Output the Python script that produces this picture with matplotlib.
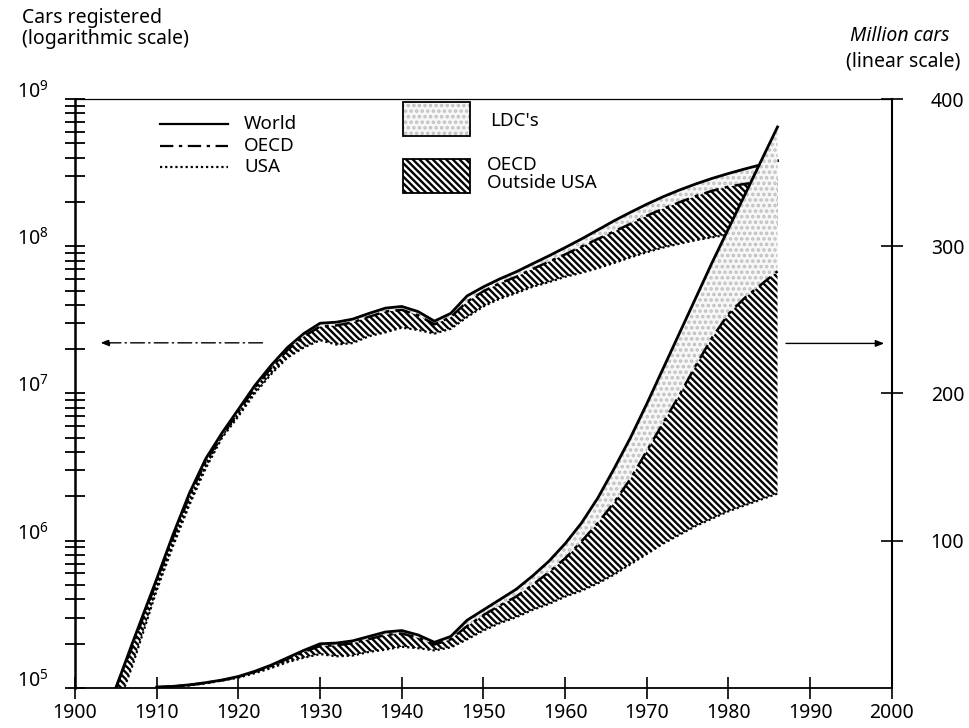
import numpy as np
import matplotlib.pyplot as plt
from matplotlib.patches import Rectangle
from matplotlib.ticker import LogLocator, NullFormatter, FixedLocator
from matplotlib.transforms import ScaledTranslation

plt.rcParams['font.family'] = ['Noto Sans', 'DejaVu Sans']
plt.rcParams['mathtext.default'] = 'regular'
plt.rcParams['hatch.linewidth'] = 1.7

# cars registered, million
years = [1905, 1907, 1910, 1912, 1914, 1916, 1918, 1920, 1922, 1924, 1926, 1928,
         1930, 1932, 1934, 1936, 1938, 1940, 1942, 1944, 1946, 1948, 1950, 1952,
         1954, 1956, 1958, 1960, 1962, 1964, 1966, 1968, 1970, 1972, 1974, 1976,
         1978, 1980, 1982, 1984, 1986]
world = [0.10, 0.20, 0.55, 1.1, 2.1, 3.6, 5.4, 7.8, 11.3, 15.5, 20.5, 25.5,
         30, 30.5, 32, 35, 38, 39, 36, 31, 35, 46, 53, 60,
         67, 76, 86, 98, 112, 129, 149, 170, 193, 217, 241, 265,
         289, 312, 335, 358, 381]
oecd = [0.10, 0.19, 0.53, 1.05, 2.0, 3.45, 5.2, 7.5, 10.9, 14.9, 19.7, 24.4,
        28.5, 29, 30.4, 33.2, 36, 37, 34, 29.5, 33, 42, 49.5, 56,
        62, 70, 78.5, 88, 99.5, 112, 126, 142, 161, 180, 199, 219,
        238, 254, 265, 274, 283]
usa = [0.07, 0.14, 0.46, 0.92, 1.75, 3.1, 5.0, 7.0, 10.0, 13.5, 17.5, 20.5,
       23, 21.5, 22, 24.5, 26, 28, 27, 25.5, 27.5, 33, 39, 44,
       48, 53, 57, 62, 66, 71, 77, 84, 91, 98, 104, 110,
       115, 120, 124, 128, 132]

x_ticks = list(range(1900, 2001, 10))
right_ticks = [100, 200, 300, 400]

yr = np.array(years)
w = np.array(world)
o = np.array(oecd)
u = np.array(usa)

fig = plt.figure(figsize=(9.69, 7.28), dpi=100)
ax = fig.add_axes([0.0774, 0.055, 0.843, 0.809])
ax2 = ax.twinx()

HATCH = '\\\\\\\\\\'
ldc_style = dict(facecolor='#f7f7f7', edgecolor='#c0c0c0', hatch='...', linewidth=0)
oecd_style = dict(facecolor='white', edgecolor='black', hatch=HATCH, linewidth=0)
dashdot = (0, (6, 2.5, 1.5, 2.5))
dotted = (0, (1, 1.3))

# logarithmic set (cars)
ax.fill_between(yr, o * 1e6, w * 1e6, **ldc_style, zorder=1)
ax.fill_between(yr, u * 1e6, o * 1e6, **oecd_style, zorder=1)
ax.plot(yr, w * 1e6, color='black', lw=2.0, zorder=3)
ax.plot(yr, o * 1e6, color='black', lw=1.8, ls=dashdot, zorder=3)
ax.plot(yr, u * 1e6, color='black', lw=1.6, ls=dotted, zorder=3)

# linear set (million cars), from 1910 on
s = yr >= 1910
ax2.fill_between(yr[s], o[s], w[s], **ldc_style, zorder=1)
ax2.fill_between(yr[s], u[s], o[s], **oecd_style, zorder=1)
ax2.plot(yr[s], w[s], color='black', lw=2.0, zorder=3)
ax2.plot(yr[s], o[s], color='black', lw=1.8, ls=dashdot, zorder=3)
ax2.plot(yr[s], u[s], color='black', lw=1.6, ls=dotted, zorder=3)

ax.set_xlim(1900, 2000)
ax.set_yscale('log')
ax.set_ylim(1e5, 1e9)
ax2.set_ylim(0, 400)

ax.set_xticks(x_ticks)
ax.yaxis.set_minor_locator(LogLocator(base=10, subs=np.arange(2, 10), numticks=50))
ax.yaxis.set_minor_formatter(NullFormatter())
ax.set_yticks([1e5, 1e6, 1e7, 1e8, 1e9])
ax.set_yticklabels([r'$10^{%d}$' % k for k in range(5, 10)])
ax2.yaxis.set_major_locator(FixedLocator(right_ticks))

ax.tick_params(axis='x', direction='inout', length=16, width=1.2, pad=3, labelsize=14)
ax.tick_params(axis='y', which='both', direction='inout', length=14, width=1.3, pad=12,
               labelsize=14)
ax2.tick_params(axis='y', direction='inout', length=16, width=1.2, pad=20, labelsize=14)
ax.tick_params(axis='y', which='both', right=False)

for lbl in ax.get_yticklabels():
    lbl.set_transform(lbl.get_transform() + ScaledTranslation(0, 7 / 72, fig.dpi_scale_trans))

ax.spines['left'].set_linewidth(1.8)
ax.spines['bottom'].set_linewidth(1.3)
ax.spines['top'].set_linewidth(0.9)
ax.spines['right'].set_visible(False)
for side in ['left', 'bottom', 'top']:
    ax2.spines[side].set_visible(False)
ax2.spines['right'].set_linewidth(1.5)

# arrows telling which scale each set belongs to
ax.annotate('', xy=(0.028, 0.586), xytext=(0.233, 0.586), xycoords='axes fraction',
            arrowprops=dict(arrowstyle='-|>,head_length=0.5,head_width=0.2', lw=1.0,
                            ls=(0, (10, 3, 1, 3)), color='black'))
ax.annotate('', xy=(0.994, 0.585), xytext=(0.867, 0.585), xycoords='axes fraction',
            arrowprops=dict(arrowstyle='-|>,head_length=0.5,head_width=0.2', lw=1.0,
                            color='black'))

# legend: line styles
leg_y = [0.958, 0.921, 0.884]
leg_names = ['World', 'OECD', 'USA']
leg_ls = ['-', dashdot, dotted]
for yy, name, ls in zip(leg_y, leg_names, leg_ls):
    ax.plot([0.104, 0.187], [yy, yy], transform=ax.transAxes, color='black', lw=1.6, ls=ls)
    ax.text(0.207, yy, name, transform=ax.transAxes, fontsize=13.5, va='center', ha='left')

# legend: shaded areas
ax.add_patch(Rectangle((0.401, 0.937), 0.082, 0.058, transform=ax.transAxes,
                       facecolor='#f7f7f7', edgecolor='#c0c0c0', hatch='...', lw=0))
ax.add_patch(Rectangle((0.401, 0.937), 0.082, 0.058, transform=ax.transAxes,
                       facecolor='none', edgecolor='black', lw=1.3))
ax.add_patch(Rectangle((0.401, 0.84), 0.082, 0.058, transform=ax.transAxes,
                       facecolor='white', edgecolor='black', hatch=HATCH, lw=1.3))
ax.text(0.508, 0.963, "LDC's", transform=ax.transAxes, fontsize=13.5, va='center', ha='left')
ax.text(0.504, 0.872, 'OECD\nOutside USA', transform=ax.transAxes, fontsize=13.5,
        va='center', ha='left', linespacing=1.0)

# axis titles
fig.text(22 / 969, 1 - 8 / 728, 'Cars registered\n(logarithmic scale)', fontsize=14,
         va='top', ha='left', linespacing=1.05)
fig.text(900 / 969, 1 - 36 / 728, 'Million cars', fontsize=14, style='italic',
         va='center', ha='center')
fig.text(903 / 969, 1 - 62 / 728, '(linear scale)', fontsize=14, va='center', ha='center')

fig.savefig('out.png', dpi=100)
